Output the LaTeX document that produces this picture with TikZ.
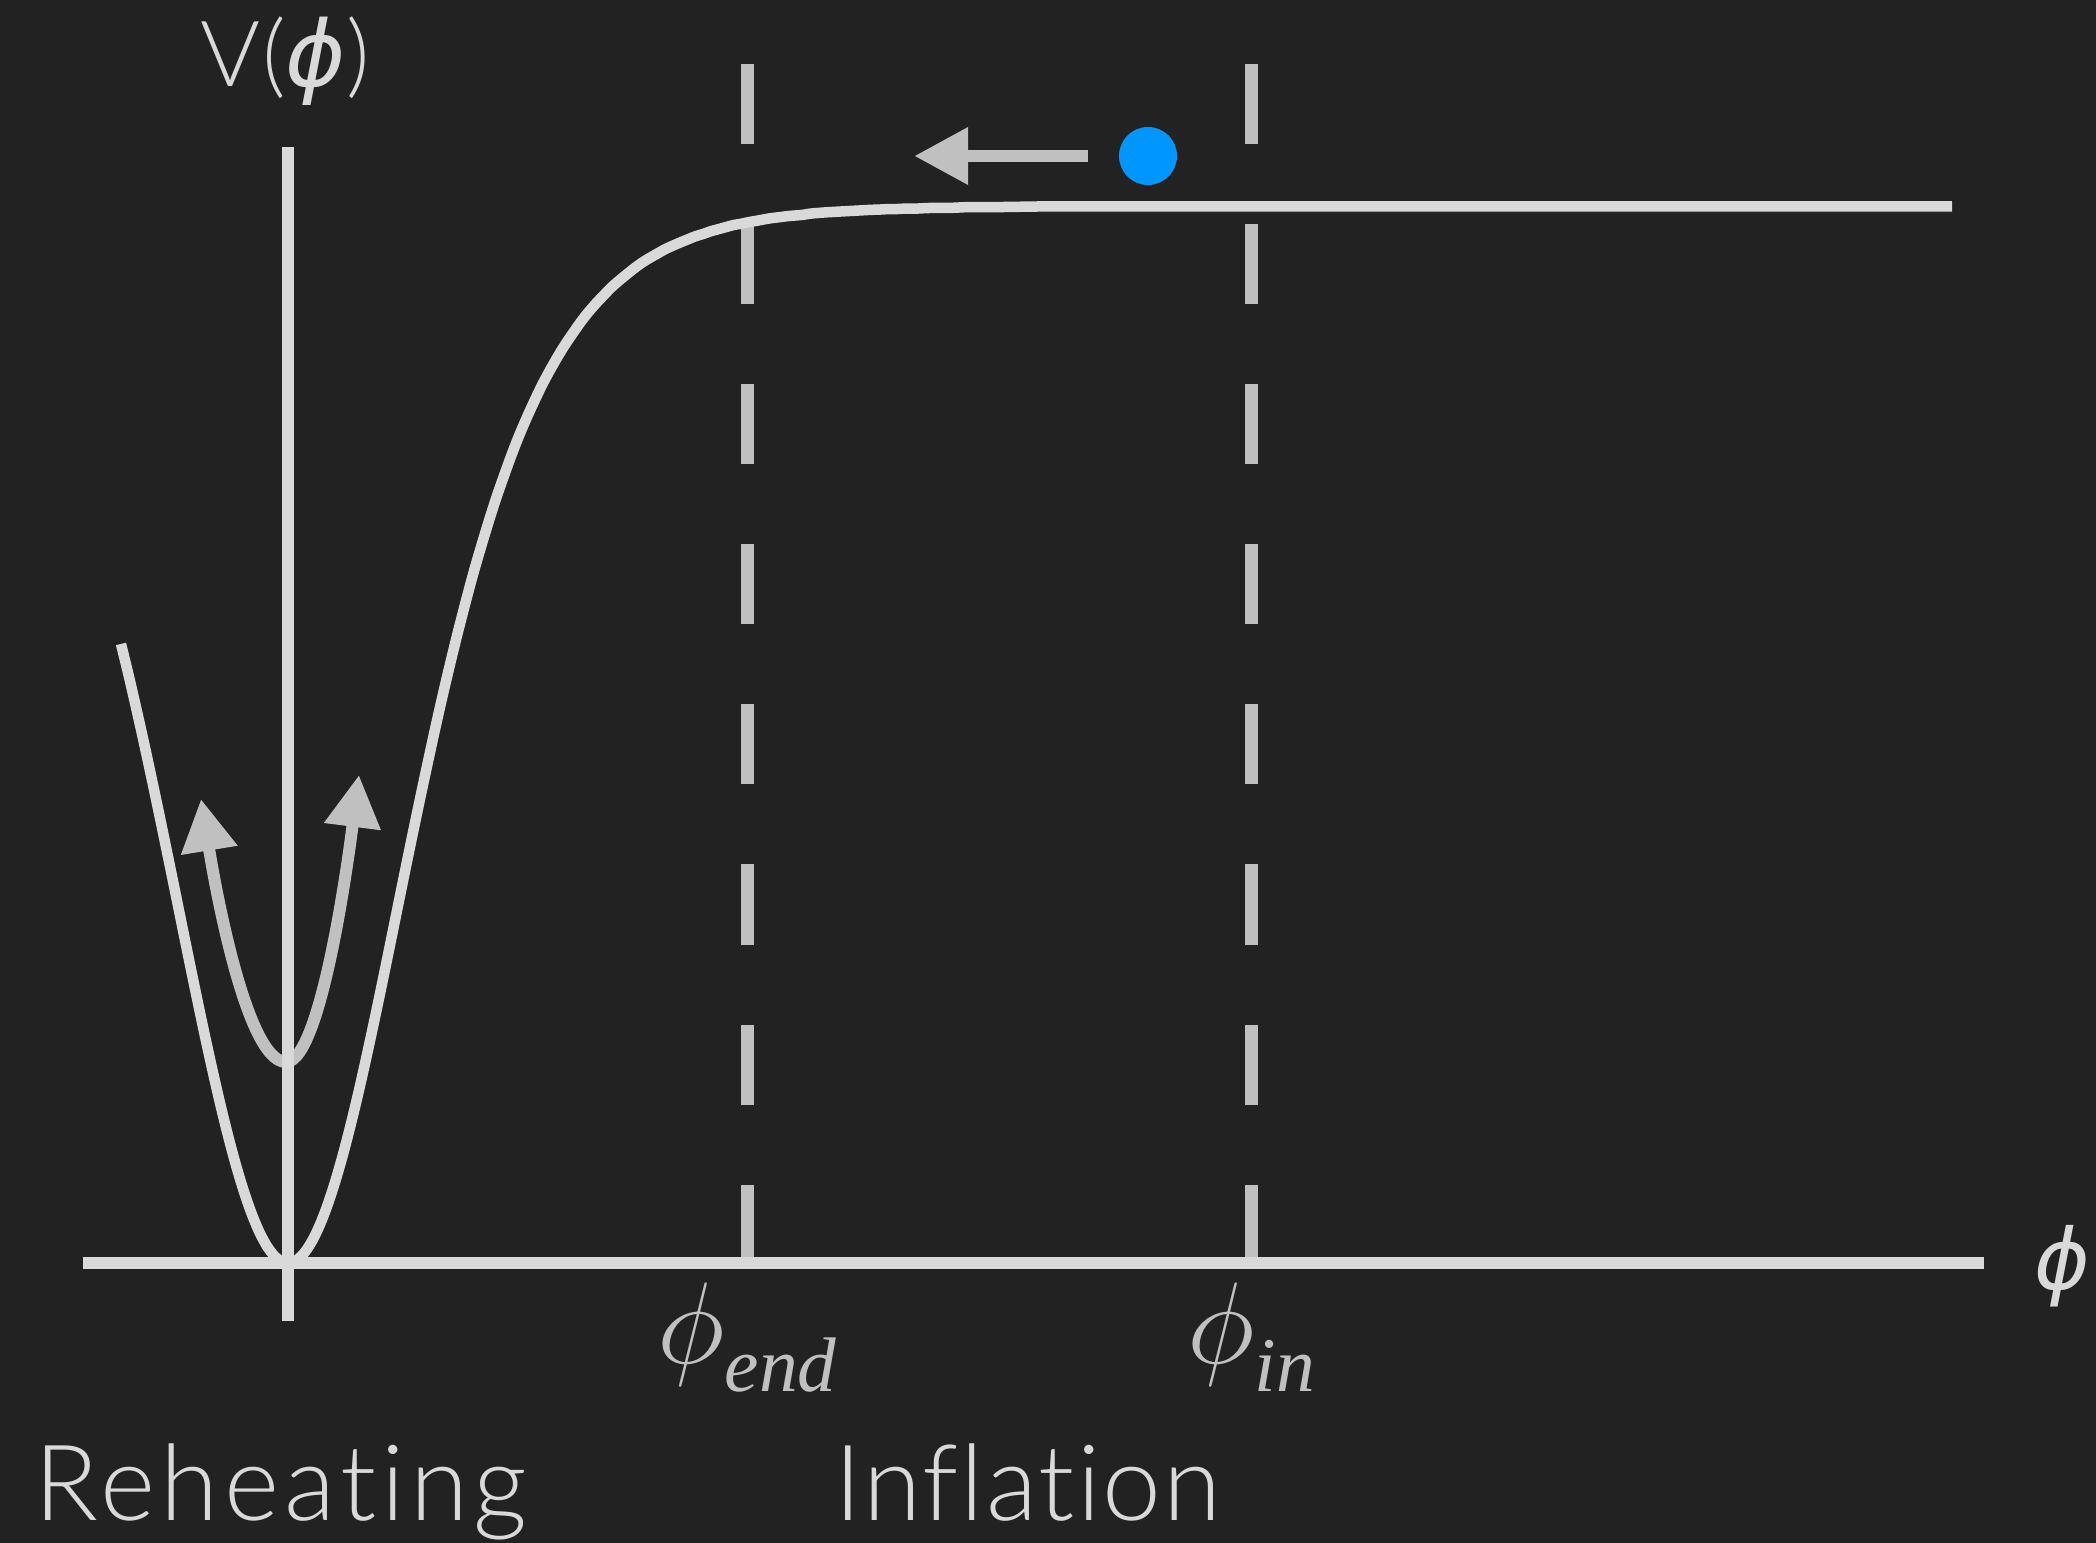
\documentclass[tikz,border=0pt]{standalone}
\usepackage{fix-cm}
\usepackage{fontspec}
\setmainfont{Lato}[UprightFont=* Light, Ligatures=NoCommon, LetterSpace=2]
\newfontfamily\phifont{DejaVu Sans}
\newfontfamily\serifit{Liberation Serif}[UprightFont=* Italic]
\usetikzlibrary{arrows.meta}
\definecolor{bgDark}{RGB}{34,34,34}
\definecolor{lineLight}{RGB}{217,217,217}
\definecolor{lineGrey}{RGB}{192,192,192}
\definecolor{dotBlue}{RGB}{0,150,255}
\newcommand{\fieldlabel}[1]{$\phi$\raisebox{-8.2pt}{\serifit\fontsize{22}{24}\selectfont #1}}

\begin{document}
\begin{tikzpicture}[x=0.01cm, y=-0.01cm,
  declare function={decay(\u)=exp(-0.01208*abs(\u)); pot(\u)=((1-decay(\u))/(1+decay(\u)))^2;},
  axisline/.style={draw=lineLight, line width=0.11cm},
  guide/.style={draw=lineGrey, line width=0.13cm, dash pattern=on 0.8cm off 0.8cm},
  bigtip/.style={-{Triangle[length=0.54cm, width=0.54cm]}},
  lighttext/.style={text=lineLight, inner sep=0pt},
  greytext/.style={text=lineGrey, inner sep=0pt, anchor=base, font=\fontsize{33}{36}\selectfont}]
  \fill[bgDark] (0,0) rectangle (2096,1543);
  \useasboundingbox (0,0) rectangle (2096,1543);

  % guide lines at phi_end and phi_in
  \coordinate (endTop) at (747,64);
  \coordinate (endBot) at (747,1264);
  \coordinate (inTop) at (1251,64);
  \coordinate (inBot) at (1251,1264);
  \draw[guide] (endTop) -- (endBot);
  \draw[guide] (inTop) -- (inBot);

  % oscillation about the minimum
  \coordinate (oscLeft) at (201,799);
  \coordinate (oscBottom) at (286,1062);
  \coordinate (oscRight) at (359,775);
  \draw[draw=lineGrey, line width=0.12cm, {Triangle[length=0.52cm, width=0.54cm]}-{Triangle[length=0.52cm, width=0.54cm]}]
    (oscLeft) parabola bend (oscBottom) (oscRight);

  % axes
  \coordinate (xStart) at (83,1263);
  \coordinate (xEnd) at (1984,1263);
  \coordinate (yStart) at (288,1321);
  \coordinate (yEnd) at (288,147);
  \draw[axisline] (xStart) -- (xEnd);
  \draw[axisline] (yStart) -- (yEnd);

  % potential V = tanh^2
  \draw[draw=lineLight, line width=0.105cm, smooth, samples=240, domain=-167:1664]
    plot ({288+\x}, {1263-1057*pot(\x)});

  % field rolling down
  \node[circle, fill=dotBlue, minimum size=0.58cm, inner sep=0pt] (field) at (1148,156) {};
  \coordinate (pushEnd) at (914,156);
  \draw[draw=lineGrey, line width=0.127cm, bigtip, shorten <=0.3cm] (field.west) -- (pushEnd);

  % labels
  \node[lighttext, font=\fontsize{26}{30}\selectfont, anchor=base] (vLabel) at (285,87) {V({\phifont\itshape ϕ})};
  \node[lighttext, font=\phifont\itshape\fontsize{24}{28}\selectfont] (phiAxis) at (2062,1266) {ϕ};
  \node[greytext] (phiEnd) at (747,1363) {\fieldlabel{end}};
  \node[greytext] (phiIn) at (1251,1363) {\fieldlabel{in}};
  \node[lighttext, font=\fontsize{30}{36}\selectfont\addfontfeature{LetterSpace=5}, anchor=base] (reheat) at (281,1520) {Reheating};
  \node[lighttext, font=\fontsize{30}{36}\selectfont, anchor=base] (inflate) at (1028,1520) {Inflation};
\end{tikzpicture}
\end{document}
